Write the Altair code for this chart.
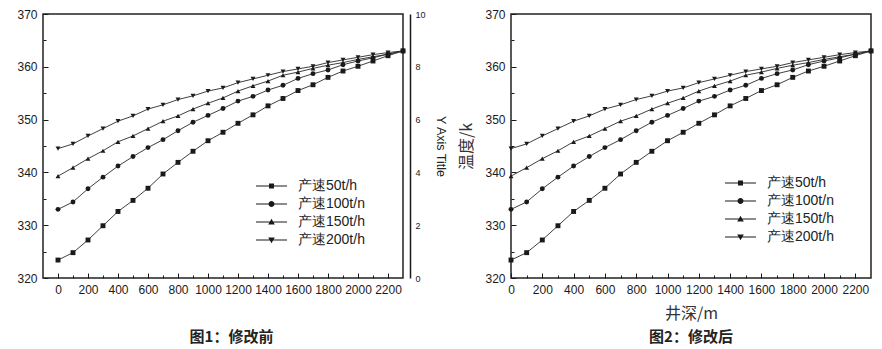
import altair as alt
import pandas as pd

# ---------------- data ----------------
depth = list(range(0, 2400, 100))
series_names = ["产速50t/h", "产速100t/n", "产速150t/h", "产速200t/h"]
t50 = [323.4, 324.8, 327.2, 329.9, 332.6, 334.7, 337.0, 339.7, 341.9, 344.0, 346.0, 347.6,
       349.3, 350.9, 352.6, 354.0, 355.5, 356.6, 358.0, 359.2, 360.1, 361.1, 362.1, 363.0]
t100 = [333.0, 334.4, 336.9, 339.1, 341.2, 343.0, 344.7, 346.2, 347.9, 349.5, 350.8, 352.1,
        353.5, 354.4, 355.6, 356.5, 357.8, 358.7, 359.4, 360.4, 361.1, 361.7, 362.4, 363.0]
t150 = [339.3, 340.9, 342.6, 344.1, 345.8, 346.9, 348.3, 349.7, 350.7, 352.0, 353.1, 354.1,
        355.4, 356.4, 357.3, 358.4, 359.0, 359.7, 360.3, 360.8, 361.4, 361.9, 362.4, 363.0]
t200 = [344.5, 345.4, 346.9, 348.3, 349.7, 350.7, 352.0, 352.8, 353.8, 354.5, 355.4, 356.0,
        357.0, 357.7, 358.4, 359.1, 359.6, 360.1, 360.8, 361.3, 361.8, 362.3, 362.7, 363.0]
x_tick_values = list(range(0, 2300, 100))
y_tick_values = list(range(320, 375, 5))
right_axis_ticks = [0, 2, 4, 6, 8, 10]
captions = ["图1：修改前", "图2：修改后"]
x_title = "井深/m"
y_title = "温度/k"
right_title = "Y Axis Title"

rows = []
for name, vals in zip(series_names, [t50, t100, t150, t200]):
    for d, v in zip(depth, vals):
        rows.append({"depth": d, "temp": v, "series": name})
df = pd.DataFrame(rows)

# ---------------- style ----------------
W, H = 360, 264
FONT = "Liberation Sans"
CJK = "Noto Sans CJK SC"
INK = "#1a1a1a"

point_shapes = ["square", "circle", "triangle-up", "triangle-down"]
# legend symbols: a thin filled bar (the line sample) plus the marker, all filled
legend_shapes = [
    "M0,-0.5H31V0.5H0ZM13,-2.5H18V2.5H13Z",
    "M0,-0.5H31V0.5H0ZM12.5,0A3,3 0 1,1 18.5,0A3,3 0 1,1 12.5,0Z",
    "M0,-0.5H31V0.5H0ZM15.5,-3.2L18.8,2.4H12.2Z",
    "M0,-0.5H31V0.5H0ZM15.5,3.2L12.2,-2.4H18.8Z",
]


def panel(xdomain, show_titles, caption, cap_offset, cap_frame, legend_x, legend_y, right_axis):
    base = alt.Chart(df)
    xenc = alt.X(
        "depth:Q",
        scale=alt.Scale(domain=xdomain, nice=False, zero=False),
        axis=alt.Axis(
            values=x_tick_values, format="d",
            labelExpr="datum.value % 200 === 0 ? datum.label : ''",
            grid=True, gridColor=INK, gridWidth=1, gridOpacity=1,
            gridDash={"condition": {"test": "datum.value % 200 === 0", "value": [0, H - 5, 5, 3000]},
                      "value": [0, H - 3, 3, 3000]},
            ticks=False, tickSize=0, domain=False,
            labelFont=FONT, labelFontSize=12, labelColor=INK, labelPadding=6,
            labelFlush=False, labelOverlap=False,
            title=x_title if show_titles else None,
            titleFont=CJK, titleFontSize=16, titleFontWeight="normal", titleColor="#333",
            titlePadding=10,
        ),
    )
    yenc = alt.Y(
        "temp:Q",
        scale=alt.Scale(domain=[320, 370], nice=False, zero=False),
        axis=alt.Axis(
            values=y_tick_values, format="d",
            labelExpr="datum.value % 10 === 0 ? datum.label : ''",
            grid=True, gridColor=INK, gridWidth=1, gridOpacity=1,
            gridDash={"condition": {"test": "datum.value % 10 === 0", "value": [5, 3000]},
                      "value": [3, 3000]},
            ticks=False, tickSize=0, domain=False,
            labelFont=FONT, labelFontSize=12, labelColor=INK, labelPadding=6,
            labelFlush=False, labelOverlap=False,
            title=y_title if show_titles else None,
            titleFont=CJK, titleFontSize=16, titleFontWeight="normal", titleColor="#333",
            titlePadding=10,
        ),
    )
    lines = base.mark_line(color="#2a2a2a", strokeWidth=0.9).encode(
        x=xenc, y=yenc, detail="series:N"
    )
    points = base.mark_point(filled=True, size=24, opacity=1, color=INK).encode(
        x=xenc, y=yenc,
        shape=alt.Shape("series:N", scale=alt.Scale(domain=series_names, range=point_shapes), legend=None),
    )
    leg = base.mark_point(filled=True, opacity=0, size=0, color=INK).encode(
        x=xenc, y=yenc,
        shape=alt.Shape(
            "series:N",
            scale=alt.Scale(domain=series_names, range=legend_shapes),
            legend=alt.Legend(
                orient="none", legendX=legend_x, legendY=legend_y, title=None,
                symbolSize=4, symbolOpacity=1, symbolFillColor=INK,
                symbolStrokeWidth=0, labelFont=FONT, labelFontSize=14, labelColor="#222",
                labelOffset=35, rowPadding=4, padding=0,
            ),
        ),
    )
    inner = alt.layer(lines, points, leg).resolve_scale(shape="independent")
    if right_axis:
        ra = alt.Chart(pd.DataFrame({"v": right_axis_ticks})).mark_point(opacity=0, size=0).encode(
            y=alt.Y(
                "v:Q",
                scale=alt.Scale(domain=[0, 10], nice=False),
                axis=alt.Axis(
                    orient="right", offset=7, values=right_axis_ticks, ticks=False, tickSize=0,
                    domain=True, domainColor=INK, domainWidth=1.5, grid=False,
                    labelFont=FONT, labelFontSize=9, labelColor=INK, labelPadding=5,
                    title=right_title, titleFont=FONT, titleFontSize=12.5,
                    titleFontWeight="normal", titleColor="#222", titlePadding=8,
                ),
            )
        )
        chart = alt.layer(inner, ra).resolve_scale(y="independent")
    else:
        chart = inner
    return chart.properties(
        width=W, height=H,
        title=alt.TitleParams(
            caption, orient="bottom", font=CJK, fontSize=15, fontWeight="bold",
            color="#222", offset=cap_offset, anchor="middle", frame=cap_frame,
        ),
    )


left = panel([-100, 2300], False, captions[0], 35, "bounds", 206, 165, True)
right = panel([0, 2300], True, captions[1], 9, "group", 207, 162, False)

chart = (
    alt.hconcat(left, right, spacing=11)
    .resolve_scale(x="independent", y="independent", shape="independent")
    .resolve_legend(shape="independent")
    .properties(padding={"left": 16, "top": 7, "right": 5, "bottom": 5}, background="white")
    .configure_view(stroke="#222", strokeWidth=1.5)
)

chart.save("out.html", embed_options={"renderer": "svg", "actions": False})
